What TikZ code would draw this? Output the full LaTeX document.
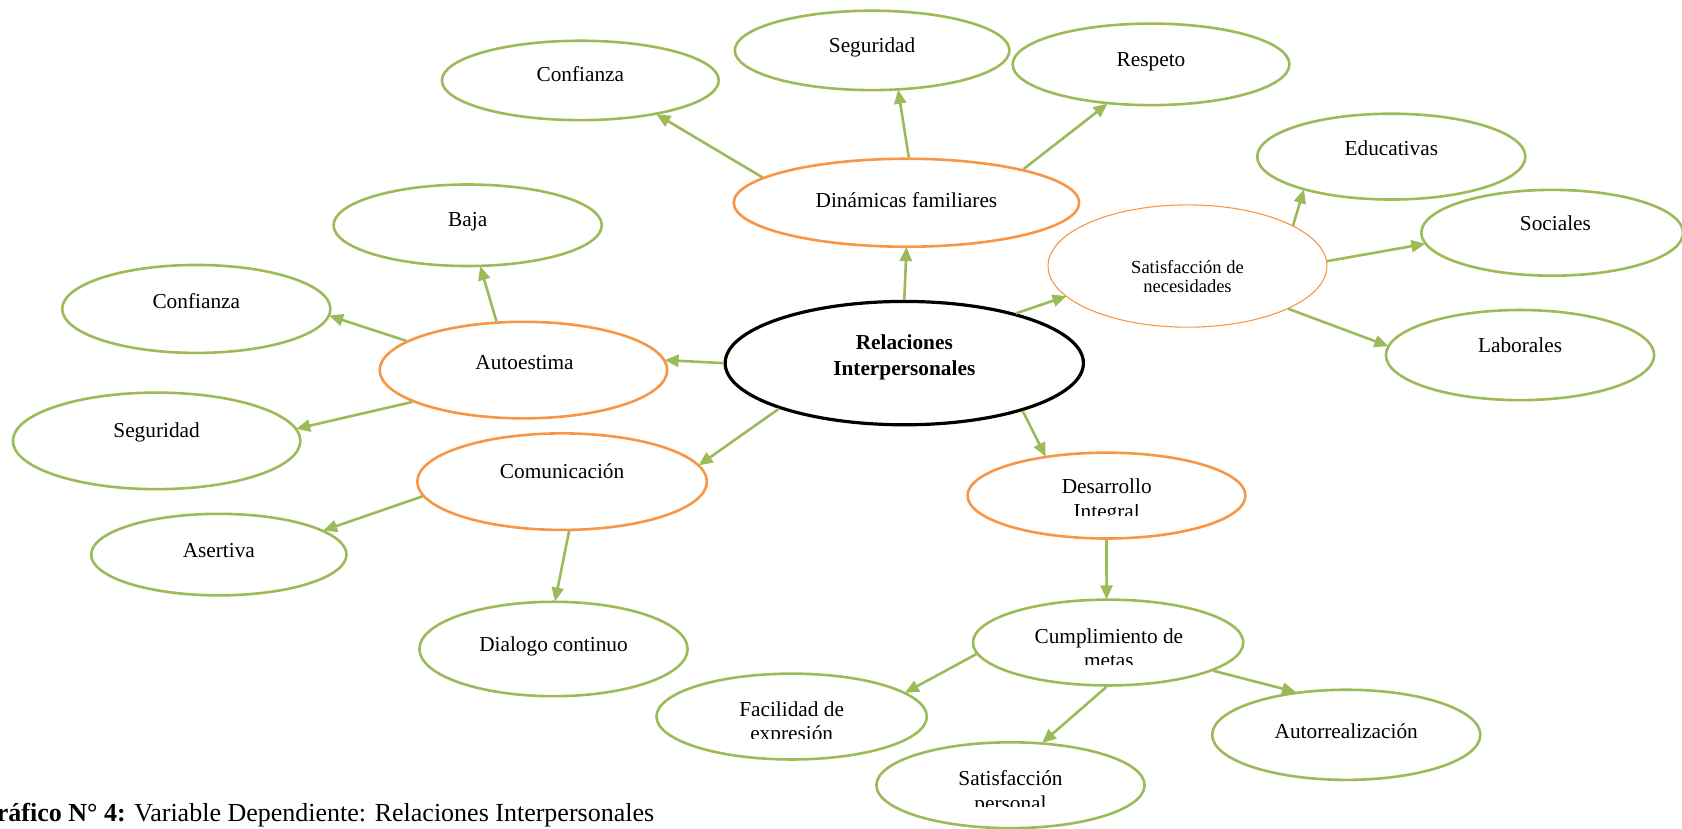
\documentclass[tikz,border=0pt]{standalone}
\usepackage{fontspec}
\setmainfont{Liberation Serif}
\usetikzlibrary{arrows.meta,shapes.geometric}
\definecolor{lgreen}{RGB}{155,187,89}
\definecolor{lorange}{RGB}{247,150,70}
\tikzset{
  ell/.style 2 args={ellipse, minimum width=#1*2.1454pt, minimum height=#2*2.1454pt, inner sep=0pt},
  leaf/.style={draw=lgreen, line width=2.6pt},
  mid/.style={draw=lorange, line width=2.6pt},
  midthin/.style={draw=lorange, line width=1.1pt},
  core/.style={draw=black, line width=3.2pt},
  txt/.style={anchor=base, inner sep=0pt, font=\fontsize{21.3}{24.5}\selectfont},
  smalltxt/.style={anchor=base, inner sep=0pt, font=\fontsize{18.5}{21}\selectfont},
  boldtxt/.style={anchor=base, inner sep=0pt, font=\bfseries\fontsize{21.3}{25.7}\selectfont},
  arr/.style={draw=lgreen, line width=2.6pt, -{Triangle[length=14pt,width=12pt]}, shorten >=-1pt}
}
\begin{document}
\begin{tikzpicture}[x=1.0727pt, y=-1.0727pt]
\useasboundingbox (0,0) rectangle (1568,772.8);
% ellipses
\node[ell={129}{37}, leaf] (conf1) at (541,75) {};
\node[ell={128}{37}, leaf] (seg1) at (813,47) {};
\node[ell={129}{38}, leaf] (resp) at (1073,60) {};
\node[ell={161}{41}, mid] (din) at (845,189) {};
\node[ell={125}{40}, leaf] (educ) at (1297,146) {};
\node[ell={122}{40}, leaf] (soc) at (1447,217) {};
\node[ell={130}{57}, midthin] (satn) at (1107,248) {};
\node[ell={125}{42}, leaf] (lab) at (1417,331) {};
\node[ell={125}{38}, leaf] (baja) at (436,210) {};
\node[ell={125}{41}, leaf] (conf2) at (183,288) {};
\node[ell={134}{45}, mid] (auto) at (488,345) {};
\node[ell={167}{57.5}, core] (rel) at (843,338.5) {};
\node[ell={134}{45}, leaf] (seg2) at (146,411) {};
\node[ell={135}{45}, mid] (com) at (524,449) {};
\node[ell={119}{38}, leaf] (asert) at (204,517) {};
\node[ell={129.5}{40}, mid] (des) at (1031.5,462) {};
\node[ell={125}{44}, leaf] (dial) at (516,605) {};
\node[ell={126}{40}, leaf] (cum) at (1033,599) {};
\node[ell={126}{40}, leaf] (fac) at (738,668) {};
\node[ell={125}{42}, leaf] (autor) at (1255,685) {};
\node[ell={125}{40}, leaf] (satp) at (942,732) {};
% texts
\node[txt] (tconf1) at (541,76) {Confianza};
\node[txt] (tseg1) at (813,49) {Seguridad};
\node[txt] (tresp) at (1073,62) {Respeto};
\node[txt] (tdin) at (845,193) {Dinámicas familiares};
\node[txt] (teduc) at (1297,145) {Educativas};
\node[txt] (tsoc) at (1450,215) {Sociales};
\node[smalltxt] (tsatn1) at (1107,254.5) {Satisfacción de};
\node[smalltxt] (tsatn2) at (1107,273) {necesidades};
\node[txt] (tlab) at (1417,329) {Laborales};
\node[txt] (tbaja) at (436,211) {Baja};
\node[txt] (tconf2) at (183,288) {Confianza};
\node[txt] (tauto) at (489,344) {Autoestima};
\node[boldtxt] (trel1) at (843,326) {Relaciones};
\node[boldtxt] (trel2) at (843,350) {Interpersonales};
\node[txt] (tseg2) at (146,408) {Seguridad};
\node[txt] (tcom) at (524,446) {Comunicación};
\node[txt] (tasert) at (204,520) {Asertiva};
\node[txt] (tdial) at (516,607) {Dialogo continuo};
\node[txt] (tautor) at (1255,688) {Autorrealización};
\node[txt] (tdes1) at (1031.7,460.5) {Desarrollo};
\begin{scope}
\clip (960,470) rectangle (1110,481);
\node[txt] (tdes2) at (1031.7,483.3) {Integral};
\end{scope}
\node[txt] (tcum1) at (1033.7,599.5) {Cumplimiento de};
\begin{scope}
\clip (960,605) rectangle (1110,619);
\node[txt] (tcum2) at (1033.7,622.3) {metas};
\end{scope}
\node[txt] (tfac1) at (738,667.5) {Facilidad de};
\begin{scope}
\clip (660,675) rectangle (820,688.3);
\node[txt] (tfac2) at (738,690.3) {expresión};
\end{scope}
\node[txt] (tsatp1) at (942,732.7) {Satisfacción};
\begin{scope}
\clip (860,740) rectangle (1020,752);
\node[txt] (tsatp2) at (942,755.5) {personal};
\end{scope}
% connectors
\draw[arr] (din.170) -- (conf1.-24);
\draw[arr] (din.87) -- (seg1.-57);
\draw[arr] (din.16) -- (resp.222);
\draw[arr] (rel.90) -- (din.270);
\draw[arr] (rel.24) -- (satn.194);
\draw[arr] (satn.21) -- (educ.201);
\draw[arr] (satn.2) -- (soc.185);
\draw[arr] (satn.-23) -- (lab.176);
\draw[arr] (rel.180) -- (auto.4);
\draw[arr] (auto.119) -- (baja.-73);
\draw[arr] (auto.166) -- (conf2.-3);
\draw[arr] (auto.196) -- (seg2.5);
\draw[arr] (rel.200) -- (com.7.5);
\draw[arr] (com.186) -- (asert.13);
\draw[arr] (com.-82) -- (dial.88);
\draw[arr] (rel.-22) -- (des.147);
\draw[arr] (des.-90) -- (cum.92);
\draw[arr] (cum.185) -- (fac.12);
\draw[arr] (cum.-92) -- (satp.53);
\draw[arr] (cum.-15) -- (autor.140);
% caption
\node[anchor=base west, inner sep=0pt, font=\fontsize{26}{30}\selectfont] (cap) at (-21.9,766) {\textbf{Gráfico N° 4:} Variable Dependiente: Relaciones Interpersonales};
\end{tikzpicture}
\end{document}
